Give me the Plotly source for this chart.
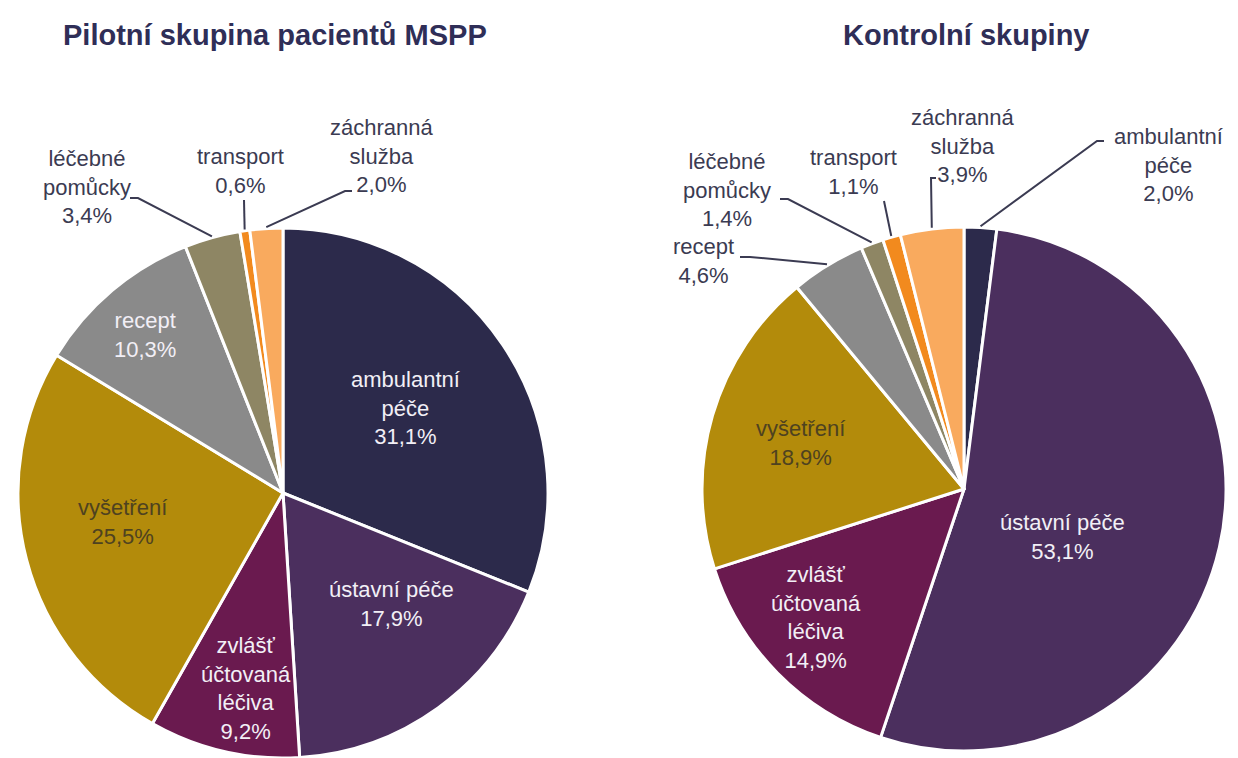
import math
import plotly.graph_objects as go

W, H = 1238, 758

categories = ["ambulantní péče", "ústavní péče", "zvlášť účtovaná léčiva", "vyšetření",
              "recept", "léčebné pomůcky", "transport", "záchranná služba"]
display_names = ["ambulantní<br>péče", "ústavní péče", "zvlášť<br>účtovaná<br>léčiva", "vyšetření",
                 "recept", "léčebné<br>pomůcky", "transport", "záchranná<br>služba"]
pilot_values = [31.1, 17.9, 9.2, 25.5, 10.3, 3.4, 0.6, 2.0]
control_values = [2.0, 53.1, 14.9, 18.9, 4.6, 1.4, 1.1, 3.9]
titles = ["Pilotní skupina pacientů MSPP", "Kontrolní skupiny"]

colors = ["#2c2a4b", "#4b2f5e", "#6a1a4f", "#b38b0b", "#8a8a8a", "#8e8664", "#f28a1e", "#f9aa5e"]

FONT = "Liberation Sans, Arial, sans-serif"
OUT_COLOR = "#3b3b52"
LIGHT = "#f2eff6"
DARK_ON_GOLD = "#4e4220"

# pie geometry (pixels, origin top-left)
pies = [
    dict(values=pilot_values, cx=283, cy=493, r=265),
    dict(values=control_values, cx=964, cy=489, r=262),
]

# label placement per pie: index -> (kind, cx, cy, color, leader points)
label_specs = [
    {
        0: ("in", 405, 408, LIGHT, None),
        1: ("in", 391, 604, LIGHT, None),
        2: ("in", 246, 688, LIGHT, None),
        3: ("in", 122, 522, DARK_ON_GOLD, None),
        4: ("in", 145, 335, LIGHT, None),
        5: ("out", 87, 187, OUT_COLOR, [(130, 198), (138, 198)]),
        6: ("out", 240, 171, OUT_COLOR, [(244, 200)]),
        7: ("out", 382, 156, OUT_COLOR, [(352, 191), (345, 191)]),
    },
    {
        0: ("out", 1168, 165, OUT_COLOR, [(1104, 141), (1097, 141)]),
        1: ("in", 1062, 537, LIGHT, None),
        2: ("in", 816, 617, LIGHT, None),
        3: ("in", 800, 443, DARK_ON_GOLD, None),
        4: ("out", 703, 261, OUT_COLOR, [(740, 257), (750, 257)]),
        5: ("out", 727, 190, OUT_COLOR, [(780, 199), (788, 199)]),
        6: ("out", 853, 172, OUT_COLOR, [(884, 201)]),
        7: ("out", 963, 146, OUT_COLOR, [(936, 178), (931, 178)]),
    },
]

title_pos = [(275, 35), (966, 35)]


def px(x):
    return x / W


def py(y):
    return 1 - y / H


def fmt(v):
    return f"{v:.1f}".replace(".", ",") + "%"


fig = go.Figure()
annotations = []
shapes = []

for k, p in enumerate(pies):
    cx, cy, r = p["cx"], p["cy"], p["r"]
    fig.add_trace(go.Pie(
        labels=categories,
        values=p["values"],
        sort=False,
        direction="clockwise",
        rotation=0,
        marker=dict(colors=colors, line=dict(color="white", width=3)),
        textinfo="none",
        hoverinfo="label+percent",
        showlegend=False,
        domain=dict(x=[px(cx - r), px(cx + r)], y=[py(cy + r), py(cy - r)]),
    ))
    total = sum(p["values"])
    cum = 0.0
    for i, v in enumerate(p["values"]):
        mid = (cum + v / 2) / total
        cum += v
        kind, lx, ly, col, leader = label_specs[k][i]
        annotations.append(dict(
            x=px(lx), y=py(ly), xref="paper", yref="paper",
            text=f"{display_names[i]}<br>{fmt(v)}",
            showarrow=False, xanchor="center", yanchor="middle",
            font=dict(family=FONT, size=22, color=col),
        ))
        if leader:
            ang = 2 * math.pi * mid
            tx = cx + r * 1.005 * math.sin(ang)
            ty = cy - r * 1.005 * math.cos(ang)
            pts = leader + [(tx, ty)]
            path = "M " + " L ".join(f"{px(a):.5f},{py(b):.5f}" for a, b in pts)
            shapes.append(dict(type="path", path=path, xref="paper", yref="paper",
                               line=dict(color=OUT_COLOR, width=2)))

for t, (tx, ty) in zip(titles, title_pos):
    annotations.append(dict(
        x=px(tx), y=py(ty), xref="paper", yref="paper",
        text=f"<b>{t}</b>", showarrow=False, xanchor="center", yanchor="middle",
        font=dict(family=FONT, size=29, color="#2f2e57"),
    ))

fig.update_layout(
    width=W, height=H,
    margin=dict(l=0, r=0, t=0, b=0),
    paper_bgcolor="white", plot_bgcolor="white",
    annotations=annotations, shapes=shapes,
)

fig.write_html("out.html", config={"displayModeBar": False},
               post_script="document.body.style.margin='0';document.body.style.overflow='hidden';")
